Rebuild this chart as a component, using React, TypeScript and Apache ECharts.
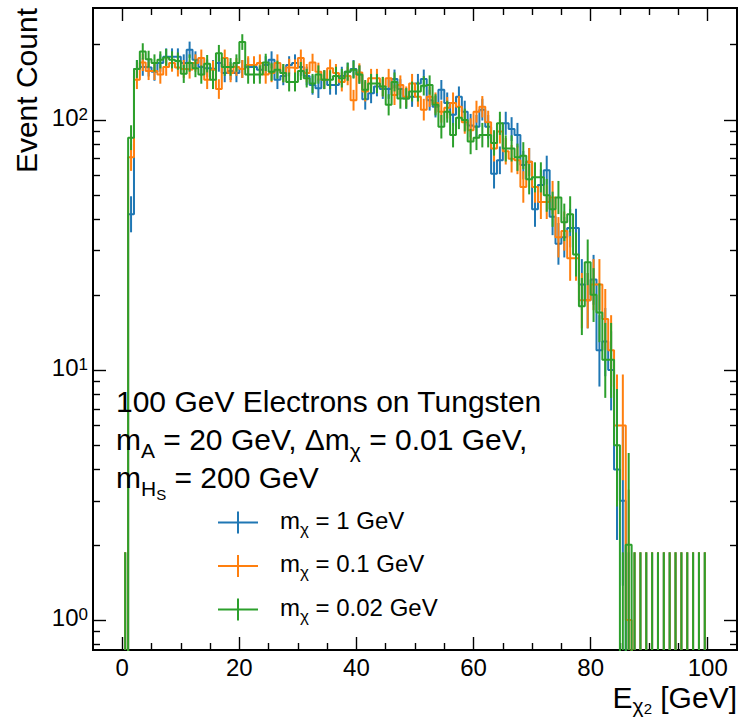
import React, { useEffect, useRef } from "react";
import * as echarts from "echarts";

// ---------- data ----------
const binLow = 0;
const binWidth = 1;

const countsMx1: number[] = [
  0, 42, 160, 163, 162, 156, 169, 179, 179, 179,
  169, 191, 174, 163, 161, 160, 169, 154, 157, 154,
  160, 163, 163, 159, 166, 174, 145, 150, 166, 169,
  163, 150, 138, 134, 145, 138, 138, 150, 156, 160,
  152, 121, 128, 136, 133, 133, 146, 133, 122, 124,
  140, 146, 120, 113, 132, 117, 105, 124, 108, 95,
  94, 110, 94, 61, 69, 97, 92, 87, 66, 68,
  44, 55, 63, 41, 32, 34, 37, 37, 22, 19,
  23, 12, 13, 10, 4, 3, 0, 0, 0, 0,
  0, 0, 0, 0, 0, 0, 0, 0, 0, 0,
];

const countsMx01: number[] = [
  0, 71, 145, 170, 157, 157, 152, 163, 169, 162,
  160, 159, 169, 177, 145, 159, 133, 177, 154, 163,
  160, 166, 166, 169, 152, 154, 169, 154, 162, 161,
  177, 154, 170, 156, 145, 161, 154, 142, 150, 120,
  155, 130, 147, 147, 136, 147, 126, 138, 124, 140,
  124, 110, 124, 117, 108, 112, 117, 113, 98, 91,
  108, 113, 98, 77, 90, 75, 70, 69, 54, 68,
  54, 47, 47, 49, 34, 36, 28, 28, 19, 19,
  22, 22, 16, 12, 6, 6, 1, 0, 0, 0,
  0, 0, 0, 0, 0, 0, 0, 0, 0, 0,
];

const countsMx002: number[] = [
  0, 85, 160, 188, 175, 169, 174, 178, 174, 172,
  153, 169, 161, 152, 168, 145, 185, 163, 163, 169,
  205, 152, 152, 152, 170, 156, 159, 154, 142, 142,
  157, 147, 140, 152, 145, 145, 150, 147, 156, 159,
  152, 132, 140, 140, 136, 115, 142, 122, 122, 130,
  130, 137, 138, 115, 94, 108, 87, 102, 100, 82,
  85, 87, 87, 81, 97, 77, 77, 71, 72, 58,
  59, 59, 50, 44, 49, 39, 42, 29, 18, 27,
  20, 17, 11, 11, 5, 0, 2, 0, 0, 0,
  0, 0, 0, 0, 0, 0, 0, 0, 0, 0,
];

const seriesNames: string[] = ["mx1", "mx01", "mx002"];
const legendTexts: string[] = [
  "{n|m}{s|χ}{n| = 1 GeV}",
  "{n|m}{s|χ}{n| = 0.1 GeV}",
  "{n|m}{s|χ}{n| = 0.02 GeV}",
];
const seriesColors: string[] = ["#1f77b4", "#ff7f0e", "#2ca02c"];

const xMajorTicks: number[] = [0, 20, 40, 60, 80, 100];
const xMinorTicks: number[] = [5, 10, 15, 25, 30, 35, 45, 50, 55, 65, 70, 75, 85, 90, 95];
const yMajorTicks: number[] = [1, 10, 100];
const yMinorTicks: number[] = [0.8, 0.9, 2, 3, 4, 5, 6, 7, 8, 9, 20, 30, 40, 50, 60, 70, 80, 90, 200];

const annotationLines: string[] = [
  "{n|100 GeV Electrons on Tungsten}",
  "{n|m}{s|A}{n| = 20 GeV, Δm}{s|χ}{n| = 0.01 GeV,}",
  "{n|m}{s|H}{ss|S}{n| = 200 GeV}",
];
const xTitle = "{n|E}{s|χ}{ss|2}{n| [GeV]}";
const yTitle = "Event Count";

// ---------- helpers ----------
const FONT = "'Liberation Sans', Arial, Helvetica, sans-serif";
const X_MIN = -5;
const X_MAX = 105;
const Y_MIN = 0.759;
const Y_MAX = 280.5;
const LOG_FLOOR = 1e-3;

function makeRich(F: number, lf = 1.2, ssOff = 0.3) {
  const L = Math.round(F * lf);
  const fs = Math.round(F * 0.7);
  const fss = Math.round(F * 0.5);
  const mainBase = L / 2 + 0.35 * F;
  const tokBase = (f: number) => f / 2 + 0.35 * f;
  const common = { fontFamily: FONT, color: "#000", verticalAlign: "top" as const };
  return {
    n: { ...common, fontSize: F, lineHeight: L },
    s: {
      ...common,
      fontSize: fs,
      lineHeight: fs,
      padding: [Math.max(0, mainBase + 0.17 * F - tokBase(fs)), 0, 0, 0],
    },
    ss: {
      ...common,
      fontSize: fss,
      lineHeight: Math.round(fss * 0.9),
      padding: [Math.max(0, mainBase + ssOff * F - tokBase(fss)), 0, 0, 0],
    },
    p: {
      ...common,
      fontSize: fs,
      lineHeight: fs,
      padding: [Math.max(0, mainBase - 0.33 * F - tokBase(fs)), 0, 0, 0],
    },
  };
}

// Garwood-like Poisson interval (Gehrels approximation)
const poissonLow = (n: number) =>
  n <= 0 ? 0 : n * Math.pow(1 - 1 / (9 * n) - 1 / (3 * Math.sqrt(n)), 3);
const poissonHigh = (n: number) => n + Math.sqrt(n + 0.75) + 1;

function stepData(counts: number[]) {
  const pts: number[][] = [];
  counts.forEach((c, i) => {
    const v = c > 0 ? c : LOG_FLOOR;
    const x0 = binLow + i * binWidth;
    pts.push([x0, v], [x0 + binWidth, v]);
  });
  return pts;
}

function errData(counts: number[]) {
  return counts.map((c, i) => [
    binLow + (i + 0.5) * binWidth,
    c > 0 ? c : LOG_FLOOR,
    poissonLow(c),
    poissonHigh(c),
  ]);
}

const CROSS_ICON = "path://M0,10H40V12H0Z M19,0H21V22H19Z";

export default function App() {
  const ref = useRef<HTMLDivElement>(null);

  useEffect(() => {
    if (!ref.current) return;
    const chart = echarts.init(ref.current, undefined, { renderer: "svg" });

    const allCounts = [countsMx1, countsMx01, countsMx002];
    const series: any[] = [];
    allCounts.forEach((counts, k) => {
      const color = seriesColors[k];
      series.push({
        type: "line",
        name: seriesNames[k],
        data: stepData(counts),
        showSymbol: false,
        symbol: "none",
        clip: true,
        lineStyle: { color, width: 2 },
        itemStyle: { color },
        z: 3 + k * 2,
        xAxisIndex: 0,
        yAxisIndex: 0,
      });
      series.push({
        type: "custom",
        name: seriesNames[k],
        data: errData(counts),
        clip: true,
        z: 4 + k * 2,
        xAxisIndex: 0,
        yAxisIndex: 0,
        encode: { x: 0, y: 3 },
        renderItem: (params: any, api: any) => {
          const x = api.value(0);
          const lo = Math.max(api.value(2), LOG_FLOOR);
          const hi = api.value(3);
          const cs = params.coordSys;
          const pTop = api.coord([x, hi]);
          const pBot = api.coord([x, lo]);
          const yb = Math.min(pBot[1], cs.y + cs.height);
          const yt = Math.max(pTop[1], cs.y);
          if (!(yt < yb)) return null;
          return {
            type: "line",
            shape: { x1: pTop[0], y1: yt, x2: pTop[0], y2: yb },
            style: { stroke: color, lineWidth: 2 },
          };
        },
      });
    });

    const tickStyle = { color: "#000", width: 1.4 };
    const xAxisBase = {
      type: "value",
      min: X_MIN,
      max: X_MAX,
      axisLine: { show: false, onZero: false },
      splitLine: { show: false },
    };
    const yAxisBase = {
      type: "log",
      logBase: 10,
      min: Y_MIN,
      max: Y_MAX,
      axisLine: { show: false, onZero: false },
      splitLine: { show: false },
    };
    const tickRich = makeRich(24);

    const option: any = {
      animation: false,
      grid: {
        left: 93,
        top: 8,
        width: 644,
        height: 642,
        show: true,
        borderColor: "#000",
        borderWidth: 2,
        backgroundColor: "transparent",
        containLabel: false,
        outerBoundsMode: "none",
      },
      xAxis: [
        {
          ...xAxisBase,
          position: "bottom",
          axisTick: { inside: true, length: 13, customValues: xMajorTicks, lineStyle: tickStyle },
          axisLabel: {
            customValues: xMajorTicks,
            fontSize: 24,
            lineHeight: 24,
            fontFamily: FONT,
            color: "#000",
            margin: 5,
          },
        },
        {
          ...xAxisBase,
          position: "bottom",
          axisTick: { inside: true, length: 7, customValues: xMinorTicks, lineStyle: tickStyle },
          axisLabel: { show: false },
        },
        {
          ...xAxisBase,
          position: "top",
          axisTick: { inside: true, length: 13, customValues: xMajorTicks, lineStyle: tickStyle },
          axisLabel: { show: false },
        },
        {
          ...xAxisBase,
          position: "top",
          axisTick: { inside: true, length: 7, customValues: xMinorTicks, lineStyle: tickStyle },
          axisLabel: { show: false },
        },
      ],
      yAxis: [
        {
          ...yAxisBase,
          position: "left",
          axisTick: { inside: true, length: 13, customValues: yMajorTicks, lineStyle: tickStyle },
          axisLabel: {
            customValues: yMajorTicks,
            margin: 5,
            formatter: (v: number) => `{n|10}{p|${Math.round(Math.log10(v))}}`,
            rich: tickRich,
          },
        },
        {
          ...yAxisBase,
          position: "left",
          axisTick: { inside: true, length: 7, customValues: yMinorTicks, lineStyle: tickStyle },
          axisLabel: { show: false },
        },
        {
          ...yAxisBase,
          position: "right",
          axisTick: { inside: true, length: 13, customValues: yMajorTicks, lineStyle: tickStyle },
          axisLabel: { show: false },
        },
        {
          ...yAxisBase,
          position: "right",
          axisTick: { inside: true, length: 7, customValues: yMinorTicks, lineStyle: tickStyle },
          axisLabel: { show: false },
        },
      ],
      legend: {
        orient: "vertical",
        left: 218,
        top: 508,
        padding: 0,
        itemGap: 14,
        itemWidth: 40,
        itemHeight: 22,
        selectedMode: false,
        data: seriesNames.map((n, i) => ({
          name: n,
          icon: CROSS_ICON,
          itemStyle: { color: seriesColors[i] },
        })),
        formatter: (name: string) => legendTexts[seriesNames.indexOf(name)],
        textStyle: {
          fontSize: 24,
          fontFamily: FONT,
          color: "#000",
          padding: [0, 0, 0, 17],
          rich: makeRich(24),
        },
      },
      graphic: [
        ...annotationLines.map((t, i) => ({
          type: "text",
          x: 116,
          y: 386 + i * 38,
          z: 100,
          style: {
            text: t,
            rich: makeRich(30),
            align: "left",
            verticalAlign: "top",
          },
        })),
        {
          type: "text",
          x: 737,
          y: 682,
          z: 100,
          style: {
            text: xTitle,
            rich: makeRich(30, 1.0, 0.2),
            align: "right",
            verticalAlign: "top",
          },
        },
        {
          type: "text",
          x: 26,
          y: 8,
          rotation: Math.PI / 2,
          z: 100,
          style: {
            text: yTitle,
            fontSize: 30,
            fontFamily: FONT,
            fill: "#000",
            align: "right",
            verticalAlign: "middle",
          },
        },
      ],
      series,
    };

    chart.setOption(option);
    return () => chart.dispose();
  }, []);

  return (
    <div
      ref={ref}
      style={{ position: "fixed", left: 0, top: 0, width: 739, height: 718, background: "#fff" }}
    />
  );
}
